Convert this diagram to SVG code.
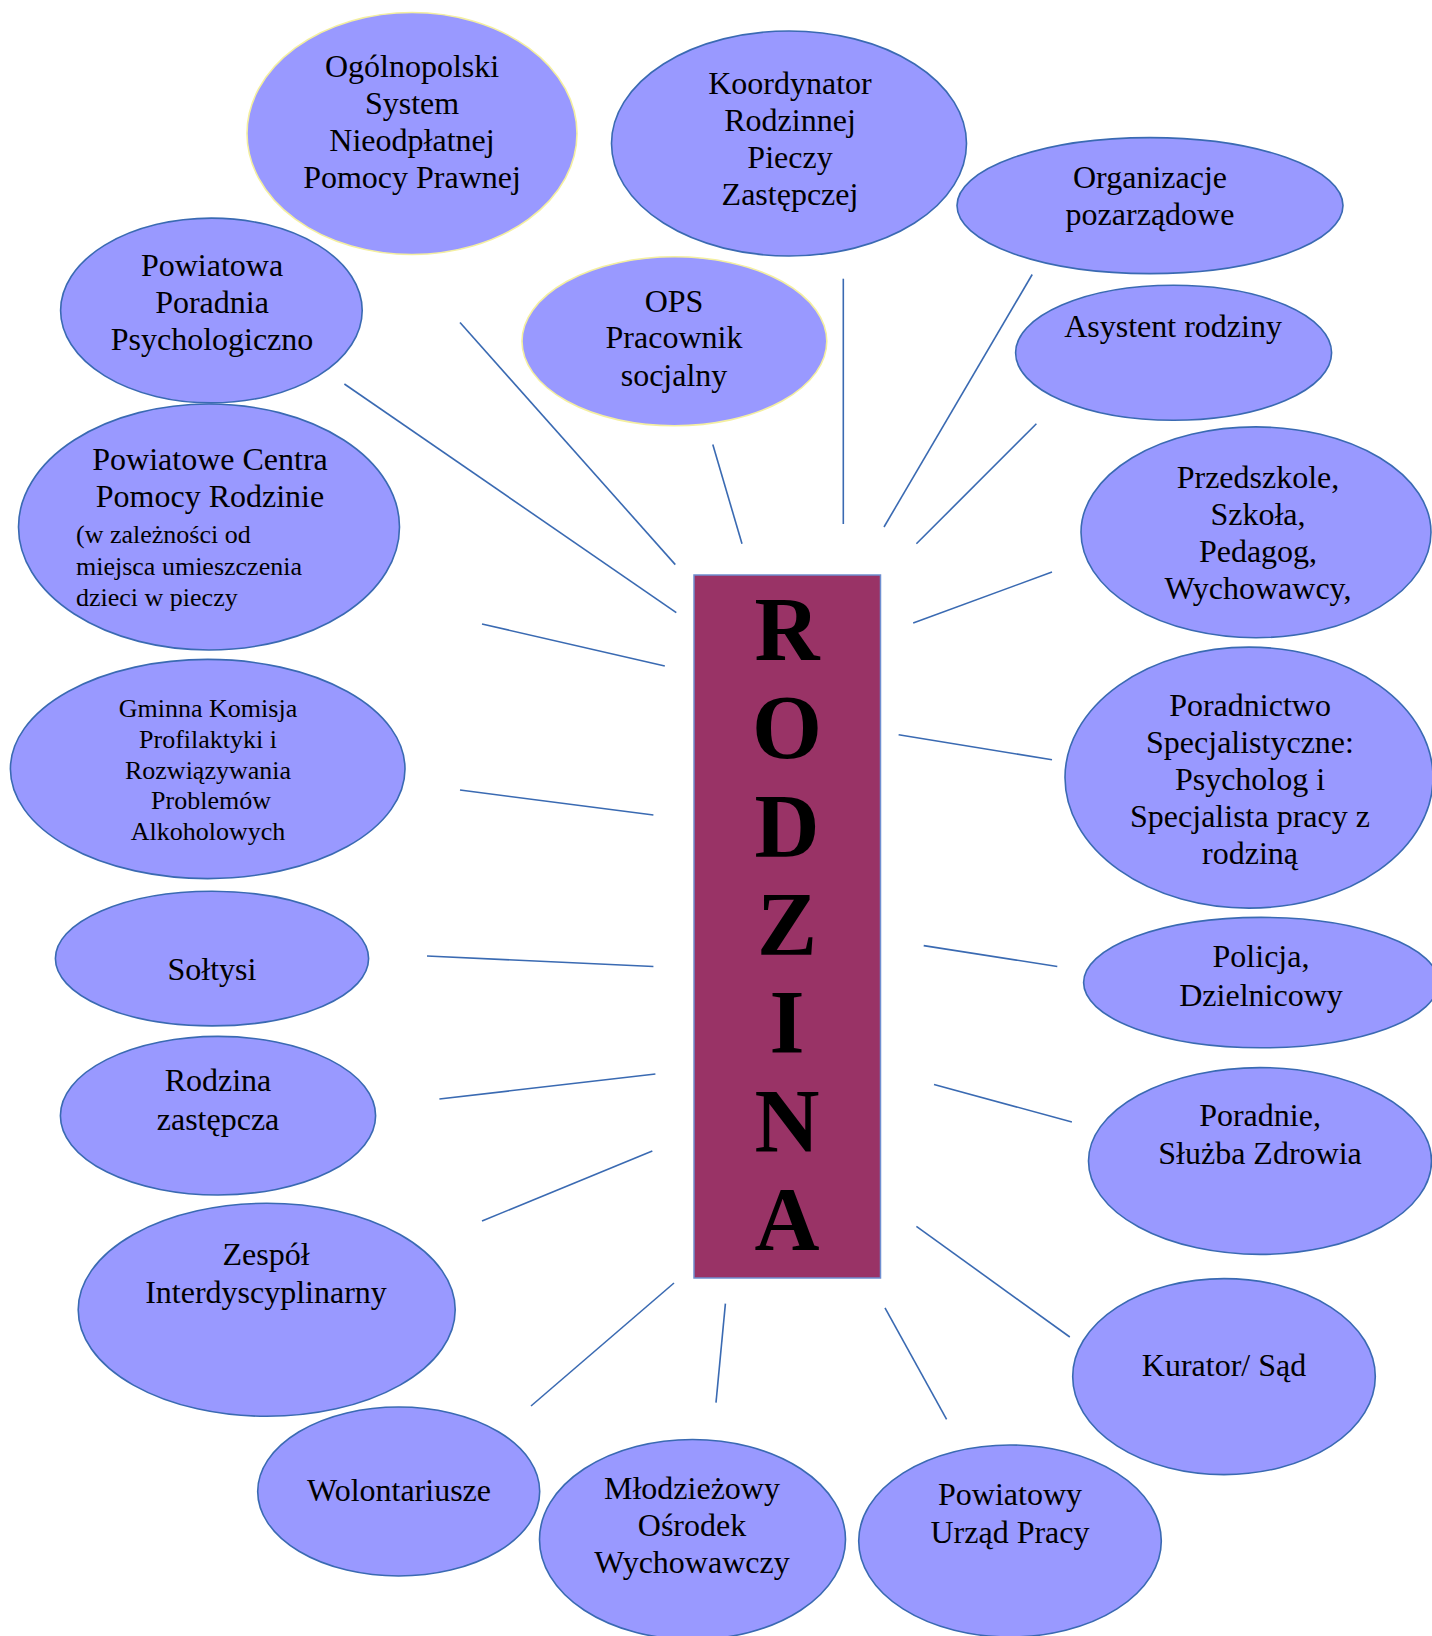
<svg xmlns="http://www.w3.org/2000/svg" width="1432" height="1636" viewBox="0 0 1432 1636">
<style>
.n ellipse{fill:#9999FF;stroke:#3A6AB2;stroke-width:1.6}
.n.y ellipse{stroke:#F4EFA0}
.t{font-family:"Liberation Serif","Times New Roman",serif;font-size:32px;fill:#000;text-anchor:middle}
.s{font-size:26px}
.l{text-anchor:start}
.c line{stroke:#3A6AB2;stroke-width:1.6}
.r{font-family:"Liberation Serif","Times New Roman",serif;font-weight:bold;font-size:90px;text-anchor:middle;fill:#000}
</style>
<rect width="1432" height="1636" fill="#fff"/>
<g id="connectors" class="c">
<line x1="460" y1="322.5" x2="675.3" y2="564.6"/>
<line x1="344.4" y1="384" x2="676.3" y2="612.6"/>
<line x1="482" y1="624" x2="664.8" y2="666"/>
<line x1="460" y1="790" x2="653.4" y2="815"/>
<line x1="427" y1="956" x2="653.4" y2="966.5"/>
<line x1="439.4" y1="1099" x2="655.4" y2="1074"/>
<line x1="482" y1="1221" x2="652.3" y2="1151"/>
<line x1="531" y1="1406" x2="674" y2="1283"/>
<line x1="716" y1="1402.7" x2="725.4" y2="1303.6"/>
<line x1="946.6" y1="1419.4" x2="885" y2="1307.8"/>
<line x1="1069.8" y1="1337" x2="916.4" y2="1226.4"/>
<line x1="934" y1="1084.4" x2="1071.9" y2="1122"/>
<line x1="923.7" y1="945.6" x2="1057.3" y2="966.5"/>
<line x1="898.6" y1="734.8" x2="1052" y2="759.8"/>
<line x1="913.2" y1="623" x2="1052" y2="572"/>
<line x1="916.4" y1="543.8" x2="1036.4" y2="423.7"/>
<line x1="884" y1="527" x2="1032.2" y2="274.5"/>
<line x1="843.3" y1="278.7" x2="843.3" y2="524"/>
<line x1="712.8" y1="444.6" x2="742" y2="543.8"/>
</g>
<g id="rodzina">
<rect x="694" y="575" width="186.5" height="703" fill="#993366" stroke="#6F8FD0" stroke-width="1.5"/>
<text class="r" x="787" y="660">R</text>
<text class="r" x="787" y="758">O</text>
<text class="r" x="787" y="857">D</text>
<text class="r" x="787" y="955">Z</text>
<text class="r" x="787" y="1053">I</text>
<text class="r" x="787" y="1152">N</text>
<text class="r" x="787" y="1250">A</text>
</g>
<g id="ogolnopolski" class="n y">
<ellipse cx="412" cy="133.5" rx="165" ry="121"/>
<text class="t" x="412" y="77">Ogólnopolski</text>
<text class="t" x="412" y="114">System</text>
<text class="t" x="412" y="151">Nieodpłatnej</text>
<text class="t" x="412" y="188">Pomocy Prawnej</text>
</g>
<g id="koordynator" class="n">
<ellipse cx="789" cy="143.5" rx="177.5" ry="112.5"/>
<text class="t" x="790" y="94">Koordynator</text>
<text class="t" x="790" y="131">Rodzinnej</text>
<text class="t" x="790" y="168">Pieczy</text>
<text class="t" x="790" y="205">Zastępczej</text>
</g>
<g id="organizacje" class="n">
<ellipse cx="1150" cy="205.6" rx="193" ry="68"/>
<text class="t" x="1150" y="188">Organizacje</text>
<text class="t" x="1150" y="225">pozarządowe</text>
</g>
<g id="asystent" class="n">
<ellipse cx="1173.6" cy="352.8" rx="158" ry="67.5"/>
<text class="t" x="1173" y="337">Asystent rodziny</text>
</g>
<g id="przedszkole" class="n">
<ellipse cx="1256" cy="532.3" rx="175" ry="105.4"/>
<text class="t" x="1258" y="488">Przedszkole,</text>
<text class="t" x="1258" y="525">Szkoła,</text>
<text class="t" x="1258" y="562">Pedagog,</text>
<text class="t" x="1258" y="599">Wychowawcy,</text>
</g>
<g id="poradnictwo" class="n">
<ellipse cx="1249" cy="777.6" rx="184" ry="130.5"/>
<text class="t" x="1250" y="716">Poradnictwo</text>
<text class="t" x="1250" y="753">Specjalistyczne:</text>
<text class="t" x="1250" y="790">Psycholog i</text>
<text class="t" x="1250" y="827">Specjalista pracy z</text>
<text class="t" x="1250" y="864">rodziną</text>
</g>
<g id="policja" class="n">
<ellipse cx="1261" cy="982.6" rx="177.4" ry="65.2"/>
<text class="t" x="1261" y="967">Policja,</text>
<text class="t" x="1261" y="1006">Dzielnicowy</text>
</g>
<g id="poradnie" class="n">
<ellipse cx="1260" cy="1161" rx="171.5" ry="93.4"/>
<text class="t" x="1260" y="1126">Poradnie,</text>
<text class="t" x="1260" y="1164">Służba Zdrowia</text>
</g>
<g id="kurator" class="n">
<ellipse cx="1224" cy="1376.6" rx="151.3" ry="98"/>
<text class="t" x="1224" y="1376">Kurator/ Sąd</text>
</g>
<g id="urzad-pracy" class="n">
<ellipse cx="1010" cy="1541" rx="151.3" ry="96"/>
<text class="t" x="1010" y="1505">Powiatowy</text>
<text class="t" x="1010" y="1543">Urząd Pracy</text>
</g>
<g id="mlodziezowy" class="n">
<ellipse cx="692.5" cy="1539.5" rx="153" ry="100"/>
<text class="t" x="692" y="1499">Młodzieżowy</text>
<text class="t" x="692" y="1536">Ośrodek</text>
<text class="t" x="692" y="1573">Wychowawczy</text>
</g>
<g id="wolontariusze" class="n">
<ellipse cx="398.7" cy="1491.5" rx="141" ry="84.5"/>
<text class="t" x="399" y="1501">Wolontariusze</text>
</g>
<g id="zespol" class="n">
<ellipse cx="266.7" cy="1309.8" rx="188.5" ry="106.5"/>
<text class="t" x="266" y="1265">Zespół</text>
<text class="t" x="266" y="1303">Interdyscyplinarny</text>
</g>
<g id="rodzina-zastepcza" class="n">
<ellipse cx="218" cy="1115.7" rx="157.6" ry="79.3"/>
<text class="t" x="218" y="1091">Rodzina</text>
<text class="t" x="218" y="1130">zastępcza</text>
</g>
<g id="soltysi" class="n">
<ellipse cx="212" cy="958.6" rx="156.6" ry="67.3"/>
<text class="t" x="212" y="980">Sołtysi</text>
</g>
<g id="gminna" class="n">
<ellipse cx="207.7" cy="769" rx="197.3" ry="109.6"/>
<text class="t s" x="208" y="717">Gminna Komisja</text>
<text class="t s" x="208" y="748">Profilaktyki i</text>
<text class="t s" x="208" y="779">Rozwiązywania</text>
<text class="t s" x="211" y="809">Problemów</text>
<text class="t s" x="208" y="840">Alkoholowych</text>
</g>
<g id="pcpr" class="n">
<ellipse cx="209" cy="527" rx="190.5" ry="123"/>
<text class="t" x="210" y="470">Powiatowe Centra</text>
<text class="t" x="210" y="507">Pomocy Rodzinie</text>
<text class="t s l" x="76" y="543">(w zależności od</text>
<text class="t s l" x="76" y="575">miejsca umieszczenia</text>
<text class="t s l" x="76" y="606">dzieci w pieczy</text>
</g>
<g id="poradnia" class="n">
<ellipse cx="211.4" cy="310.5" rx="150.8" ry="92.4"/>
<text class="t" x="212" y="276">Powiatowa</text>
<text class="t" x="212" y="313">Poradnia</text>
<text class="t" x="212" y="350">Psychologiczno</text>
</g>
<g id="ops" class="n y">
<ellipse cx="674.4" cy="341.3" rx="152.4" ry="84.5"/>
<text class="t" x="674" y="312">OPS</text>
<text class="t" x="674" y="348">Pracownik</text>
<text class="t" x="674" y="386">socjalny</text>
</g>
</svg>
